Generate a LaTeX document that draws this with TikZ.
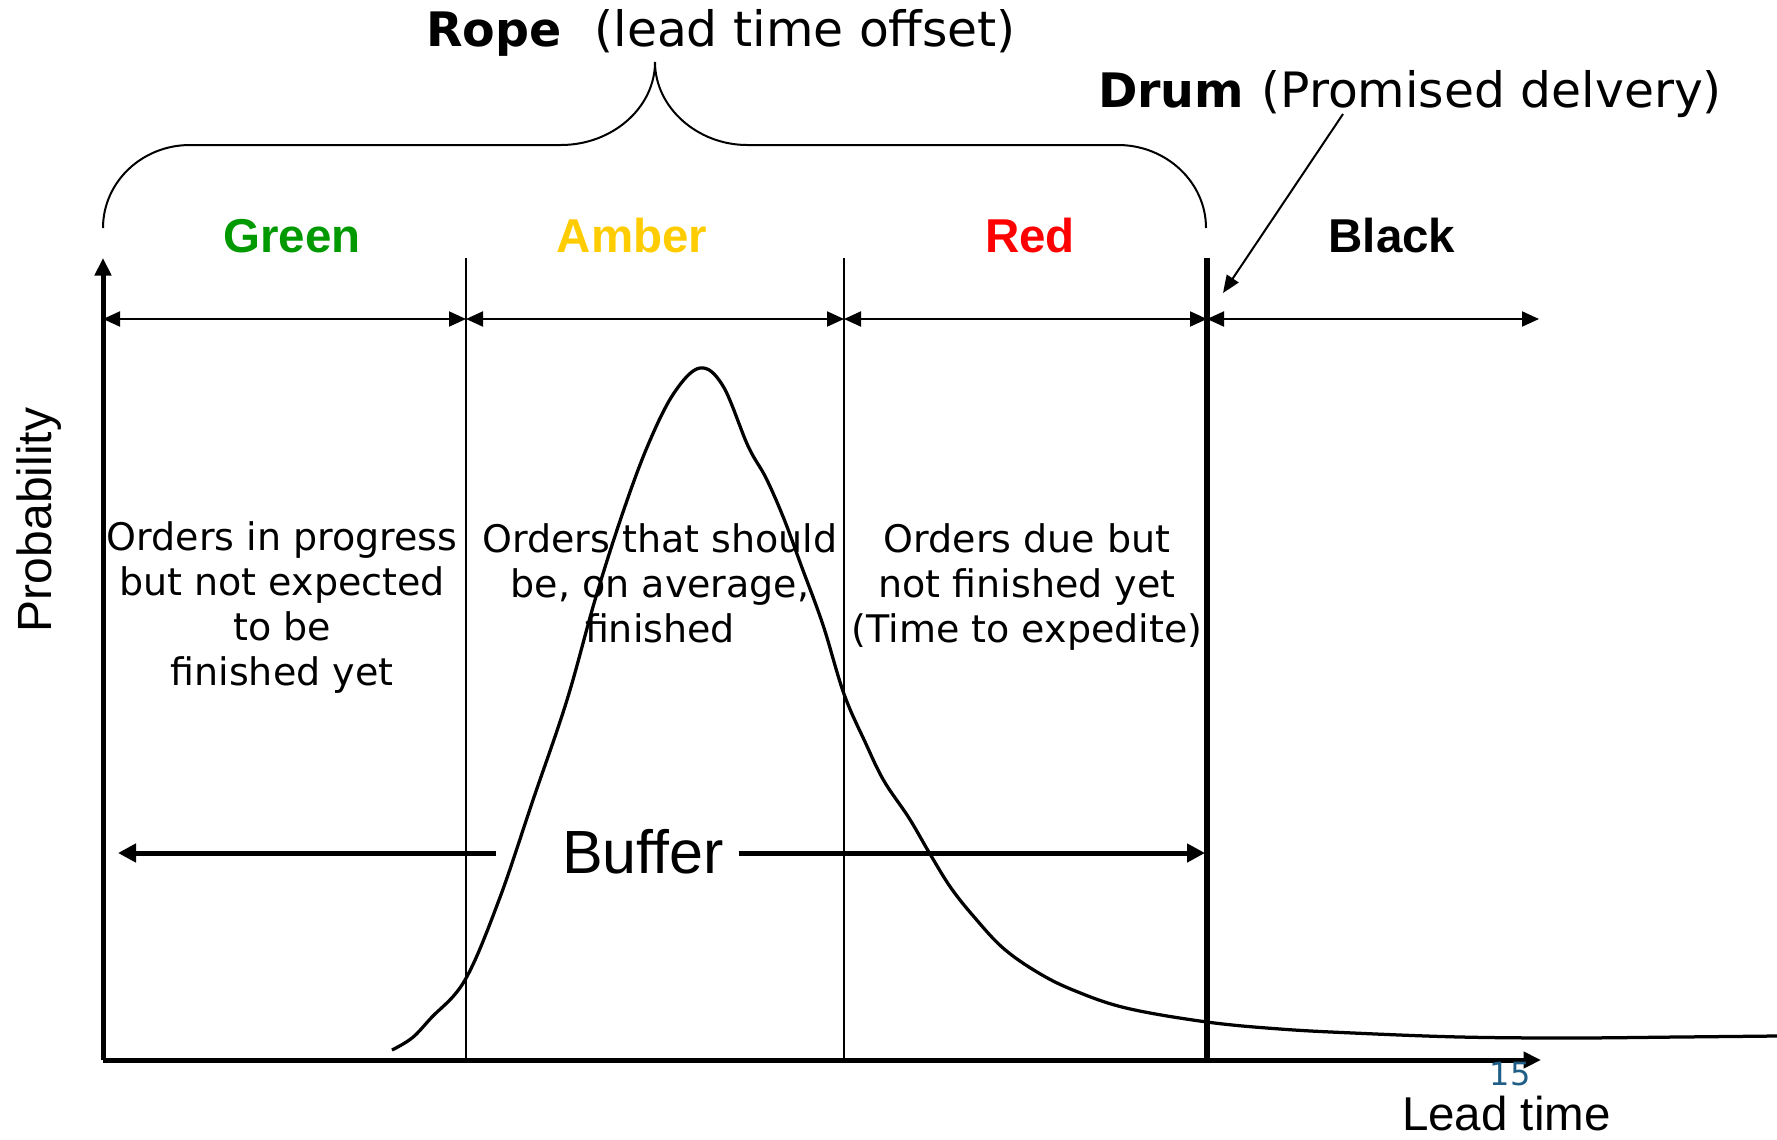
\documentclass[tikz,border=0pt]{standalone}
\usepackage{fontspec}
\setmainfont{DejaVu Sans}
\newfontfamily\arialf{Liberation Sans}
\usetikzlibrary{arrows.meta}
\definecolor{cgreen}{RGB}{0,153,0}
\definecolor{camber}{RGB}{255,204,0}
\definecolor{cred}{RGB}{255,0,0}
\definecolor{cnum}{RGB}{31,94,135}
\begin{document}
\begin{tikzpicture}[x=0.4pt,y=-0.4pt,
  every node/.style={inner sep=0pt,outer sep=0pt},
  titlebold/.style={font=\fontsize{19}{22}\selectfont\bfseries},
  titlenorm/.style={font=\fontsize{19.5}{22}\selectfont},
  zonelab/.style={font=\fontsize{19}{22}\selectfont\arialf\bfseries,anchor=base},
  bodytext/.style={font=\fontsize{15.2}{18}\selectfont,align=center,anchor=base},
  axisline/.style={line width=2pt,-{Triangle[length=7pt,width=6.4pt]}},
  thinline/.style={line width=0.6pt},
  drumline/.style={line width=2.4pt},
  dimline/.style={line width=0.8pt,{Triangle[length=6.8pt,width=6pt]}-{Triangle[length=6.8pt,width=6pt]}},
  bufarrow/.style={line width=2pt,-{Triangle[length=7.2pt,width=7.2pt]}},
  pointer/.style={line width=0.8pt,-{Triangle[length=7pt,width=5.6pt]}},
  bracestyle/.style={line width=0.8pt},
  curvestyle/.style={line width=1.3pt}
]
\useasboundingbox (0,0) rectangle (1777,1139);

% titles
\node[titlebold,anchor=base west] (rope) at (426,47) {Rope};
\node[titlenorm,anchor=base east] (ropenote) at (1016,47) {(lead time offset)};
\node[titlebold,anchor=base west] (drum) at (1098,108) {Drum};
\node[titlenorm,anchor=base east] (drumnote) at (1722,108) {(Promised delvery)};

% brace
\draw[bracestyle] (103,228) .. controls (103,182) and (142,145) .. (190,145)
  -- (561,145) .. controls (612,145) and (655,108) .. (655,62)
  .. controls (655,108) and (698,145) .. (747,145)
  -- (1118,145) .. controls (1166,145) and (1206,182) .. (1206,228);

% zone labels
\node[zonelab,text=cgreen] (green) at (292,252) {Green};
\node[zonelab,text=camber] (amber) at (632,252) {Amber};
\node[zonelab,text=cred] (red) at (1030,252) {Red};
\node[zonelab,text=black] (black) at (1392,252) {Black};

% coordinates
\coordinate (O) at (103,1060);
\coordinate (ytop) at (103,258);
\coordinate (xend) at (1541,1060);
\coordinate (v1t) at (466,258);
\coordinate (v1b) at (466,1060);
\coordinate (v2t) at (844,258);
\coordinate (v2b) at (844,1060);
\coordinate (v3t) at (1207,258);
\coordinate (v3b) at (1207,1060);
\coordinate (d0) at (103,319);
\coordinate (d1) at (466,319);
\coordinate (d2) at (844,319);
\coordinate (d3) at (1207,319);
\coordinate (d4) at (1539,319);
\coordinate (drumfrom) at (1343,114);
\coordinate (drumto) at (1223,293);

% zone borders
\draw[thinline] (v1t) -- (v1b);
\draw[thinline] (v2t) -- (v2b);
\draw[drumline] (v3t) -- (v3b);

% dimension arrows
\draw[dimline] (d0) -- (d1);
\draw[dimline] (d1) -- (d2);
\draw[dimline] (d2) -- (d3);
\draw[dimline] (d3) -- (d4);

% drum pointer
\draw[pointer] (drumfrom) -- (drumto);

% distribution curve
\draw[curvestyle] plot[smooth,tension=0.6] coordinates {
 (392,1050) (412,1038) (431,1018) (465,980) (499,900) (533,800) (567,700) (595,600)
 (622,515) (648,445) (674,393) (700,368) (723,386) (748,446) (766,478)
 (784,519) (801,565) (823,625) (844,694) (866,744) (884,781) (909,818)
 (930,854) (951,888) (975,918) (1003,948) (1037,972) (1073,990) (1126,1008)
 (1207,1022) (1280,1029) (1353,1033) (1460,1037) (1570,1038) (1680,1037) (1777,1036)};

% axes
\draw[axisline] (O) -- (ytop);
\draw[axisline] (O) -- (xend);

% body texts (anchor = baseline of last line)
\node[bodytext] (gtext) at (282,685) {Orders in progress\\but not expected\\to be\\finished yet};
\node[bodytext] (atext) at (660,642) {Orders that should\\be, on average,\\finished};
\node[bodytext] (rtext) at (1027,642) {Orders due but\\not finished yet\\(Time to expedite)};

% buffer
\node[font=\fontsize{24.4}{28}\selectfont\arialf,anchor=base] (buffer) at (643,873) {Buffer};
\coordinate (bufL) at (118,853);
\coordinate (bufR) at (1205,853);
\draw[bufarrow] (496,853) -- (bufL);
\draw[bufarrow] (739,853) -- (bufR);

% axis labels
\node[font=\fontsize{19.2}{22}\selectfont\arialf,rotate=90] (prob) at (39,520) {Probability};
\node[font=\fontsize{19}{22}\selectfont\arialf,anchor=base west] (lead) at (1402,1130) {Lead time};
\node[font=\fontsize{12.8}{15}\selectfont,text=cnum] (num) at (1510,1074) {15};
\end{tikzpicture}
\end{document}
